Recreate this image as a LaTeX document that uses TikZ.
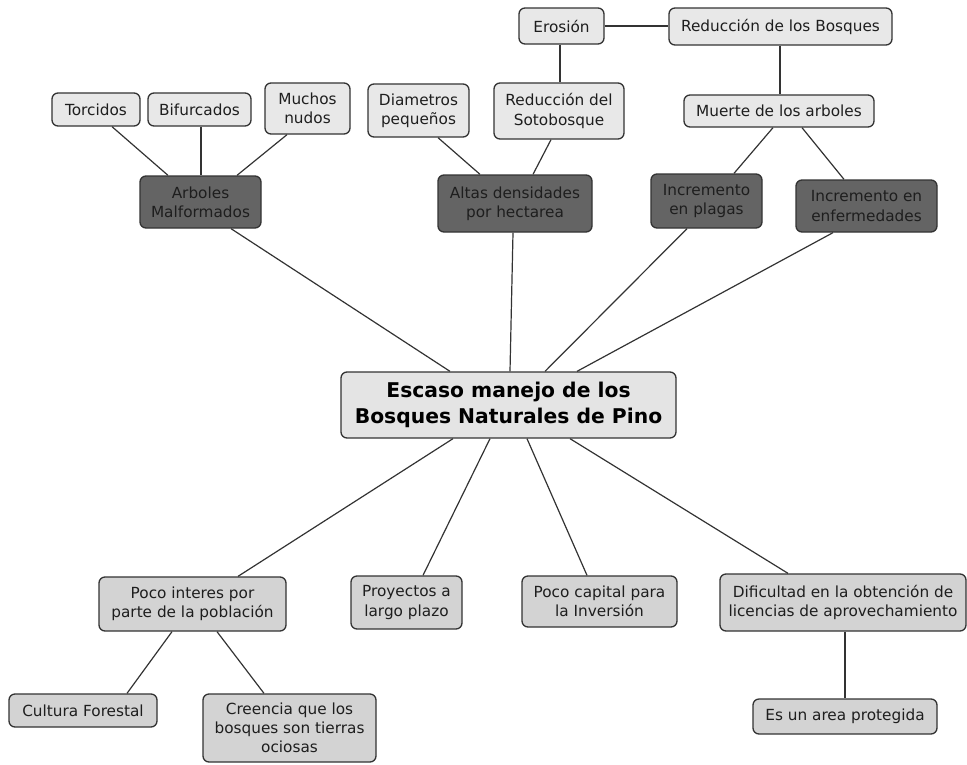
\documentclass[tikz,border=0pt]{standalone}
\usepackage{fontspec}
\setmainfont{DejaVu Sans}
\usetikzlibrary{calc}

\definecolor{lightfill}{HTML}{E8E8E8}
\definecolor{darkfill}{HTML}{646464}
\definecolor{lowfill}{HTML}{D3D3D3}
\definecolor{mainfill}{HTML}{E4E4E4}
\definecolor{edgeline}{HTML}{333333}
\definecolor{inktext}{HTML}{1E1E1E}

\tikzset{
  concept/.style={draw=edgeline, line width=1.3pt, rounded corners=6pt,
    align=center, inner sep=0pt, text=inktext,
    font=\fontsize{15.3}{19.2}\selectfont},
  lightbox/.style={concept, fill=lightfill},
  darkbox/.style={concept, fill=darkfill},
  lowbox/.style={concept, fill=lowfill},
  mainbox/.style={concept, fill=mainfill, text=black,
    font=\fontsize{20.3}{25.5}\selectfont\bfseries},
  link/.style={draw=edgeline, line width=1.2pt},
}

\begin{document}
\begin{tikzpicture}[x=1pt, y=-1pt]
\useasboundingbox (0,0) rectangle (967,764);

% upper branch: causes of malformed trees
\node[lightbox, minimum width=88pt,  minimum height=33pt] (tor)  at (96,109.5)   {Torcidos};
\node[lightbox, minimum width=103pt, minimum height=33pt] (bif)  at (199.5,109.5) {Bifurcados};
\node[lightbox, minimum width=85pt,  minimum height=51pt] (much) at (307.5,108.5) {Muchos\\nudos};
\node[lightbox, minimum width=101pt, minimum height=53pt] (diam) at (418.5,110.5) {Diametros\\pequeños};
\node[lightbox, minimum width=85pt,  minimum height=36pt] (ero)  at (561.5,26)    {Erosión};
\node[lightbox, minimum width=223pt, minimum height=37pt] (redb) at (780.5,26.5)  {Reducción de los Bosques};
\node[lightbox, minimum width=130pt, minimum height=56pt] (soto) at (559,111)     {Reducción del\\Sotobosque};
\node[lightbox, minimum width=190pt, minimum height=32pt] (muer) at (779,111)     {Muerte de los arboles};

% second level (dark)
\node[darkbox, minimum width=121pt, minimum height=52pt] (arb)  at (200.5,202) {Arboles\\Malformados};
\node[darkbox, minimum width=154pt, minimum height=57pt] (alt)  at (515,203.5) {Altas densidades\\por hectarea};
\node[darkbox, minimum width=111pt, minimum height=54pt] (plag) at (706.5,201) {Incremento\\en plagas};
\node[darkbox, minimum width=141pt, minimum height=52pt] (enf)  at (866.5,206) {Incremento en\\enfermedades};

% central problem
\node[mainbox, minimum width=335pt, minimum height=66pt] (core) at (508.5,405)
  {Escaso manejo de los\\Bosques Naturales de Pino};

% lower branch
\node[lowbox, minimum width=187pt, minimum height=54pt] (poco) at (192.5,604)   {Poco interes por\\parte de la población};
\node[lowbox, minimum width=111pt, minimum height=53pt] (proy) at (406.5,602.5) {Proyectos a\\largo plazo};
\node[lowbox, minimum width=155pt, minimum height=51pt] (cap)  at (599.5,601.5) {Poco capital para\\la Inversión};
\node[lowbox, minimum width=246pt, minimum height=57pt] (dif)  at (843,602.5)   {Dificultad en la obtención de\\licencias de aprovechamiento};
\node[lowbox, minimum width=148pt, minimum height=33pt] (cult) at (83,710.5)    {Cultura Forestal};
\node[lowbox, minimum width=173pt, minimum height=68pt] (cree) at (289.5,728)   {Creencia que los\\bosques son tierras\\ociosas};
\node[lowbox, minimum width=184pt, minimum height=35pt] (area) at (845,716.5)   {Es un area protegida};

% connectors, top part
\draw[link] ($(tor.south)+(16,0)$)    -- ($(arb.north)+(-32.5,0)$);
\draw[link] ($(bif.south)+(1.5,0)$)   -- ($(arb.north)+(0.5,0)$);
\draw[link] ($(much.south)+(-20.5,0)$) -- ($(arb.north)+(36.5,0)$);
\draw[link] ($(diam.south)+(19.5,0)$) -- ($(alt.north)+(-35,0)$);
\draw[link] ($(soto.south)+(-8,0)$)   -- ($(alt.north)+(18,0)$);
\draw[link] ($(ero.south)+(-1.5,0)$)  -- ($(soto.north)+(1,0)$);
\draw[link] (ero.east) -- (redb.west |- ero.east);
\draw[link] ($(redb.south)+(-0.5,0)$) -- ($(muer.north)+(1,0)$);
\draw[link] ($(muer.south)+(-6,0)$)   -- ($(plag.north)+(27.5,0)$);
\draw[link] ($(muer.south)+(23,0)$)   -- ($(enf.north)+(-22.5,0)$);

% connectors into the central problem
\draw[link] ($(arb.south)+(30.5,0)$)  -- ($(core.north)+(-58.5,0)$);
\draw[link] ($(alt.south)+(-2,0)$)    -- ($(core.north)+(1.5,0)$);
\draw[link] ($(plag.south)+(-19.5,0)$) -- ($(core.north)+(36.5,0)$);
\draw[link] ($(enf.south)+(-33.5,0)$) -- ($(core.north)+(68.5,0)$);

% connectors, bottom part
\draw[link] ($(core.south)+(-55.5,0)$) -- ($(poco.north)+(45.5,0)$);
\draw[link] ($(core.south)+(-18.5,0)$) -- ($(proy.north)+(16.5,0)$);
\draw[link] ($(core.south)+(18.5,0)$)  -- ($(cap.north)+(-12.5,0)$);
\draw[link] ($(core.south)+(61.5,0)$)  -- ($(dif.north)+(-55,0)$);
\draw[link] ($(poco.south)+(-20.5,0)$) -- ($(cult.north)+(44,0)$);
\draw[link] ($(poco.south)+(24.5,0)$)  -- ($(cree.north)+(-25.5,0)$);
\draw[link] ($(dif.south)+(2,0)$)      -- (area.north);
\end{tikzpicture}
\end{document}
